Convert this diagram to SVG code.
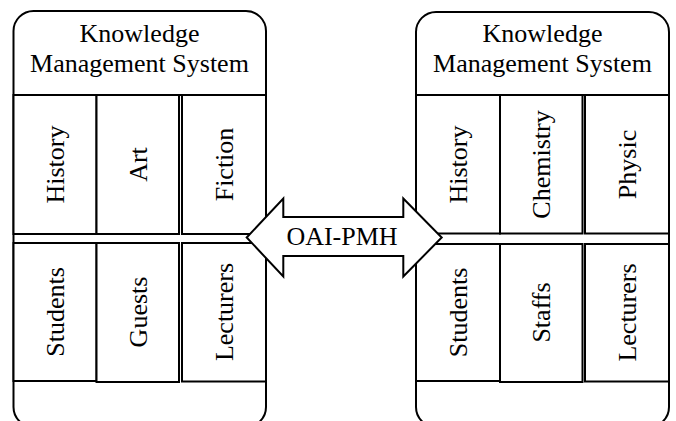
<svg xmlns="http://www.w3.org/2000/svg" width="676" height="421" viewBox="0 0 676 421">
<style>
.box{fill:#fff;stroke:#000;stroke-width:2}
.cell{fill:#fff;stroke:#000;stroke-width:2}
text{font-family:'Liberation Serif',serif;font-size:26px;fill:#000;text-anchor:middle}
</style>
<rect width="676" height="421" fill="#fff"/>
<g id="kms-left">
<rect class="box" x="13.5" y="11" width="252.5" height="416" rx="20" ry="20"/>
<line x1="13.5" y1="95" x2="266" y2="95" stroke="#000" stroke-width="2"/>
<text x="139.5" y="42">Knowledge</text>
<text x="139.5" y="72">Management System</text>
</g>
<g id="left-history"><rect class="cell" x="13.5" y="95" width="83" height="139"/><text transform="translate(63.5,164.5) rotate(-90)">History</text></g>
<g id="left-art"><rect class="cell" x="96.5" y="95" width="82.5" height="139"/><text transform="translate(146.5,164.5) rotate(-90)">Art</text></g>
<g id="left-fiction"><rect class="cell" x="182" y="95" width="84" height="139"/><text transform="translate(232.5,164.5) rotate(-90)">Fiction</text></g>
<g id="left-students"><rect class="cell" x="13.5" y="243" width="83" height="138"/><text transform="translate(63.5,312) rotate(-90)">Students</text></g>
<g id="left-guests"><rect class="cell" x="96.5" y="243" width="82.5" height="139"/><text transform="translate(146.5,312) rotate(-90)">Guests</text></g>
<g id="left-lecturers"><rect class="cell" x="182" y="243" width="84" height="138.5"/><text transform="translate(232.5,312) rotate(-90)">Lecturers</text></g>

<g id="kms-right">
<rect class="box" x="416" y="12" width="253" height="415" rx="20" ry="20"/>
<line x1="416" y1="95" x2="669" y2="95" stroke="#000" stroke-width="2"/>
<text x="542.5" y="42">Knowledge</text>
<text x="542.5" y="72">Management System</text>
</g>
<g id="right-history"><rect class="cell" x="416" y="95" width="84" height="138.5"/><text transform="translate(466.5,164.5) rotate(-90)">History</text></g>
<g id="right-chemistry"><rect class="cell" x="500" y="95" width="82.5" height="138.5"/><text transform="translate(550,164.5) rotate(-90)">Chemistry</text></g>
<g id="right-physic"><rect class="cell" x="585" y="95" width="84" height="138.5"/><text transform="translate(635.5,164.5) rotate(-90)">Physic</text></g>
<g id="right-students"><rect class="cell" x="416" y="244" width="84" height="137"/><text transform="translate(466.5,312.5) rotate(-90)">Students</text></g>
<g id="right-staffs"><rect class="cell" x="500" y="244" width="82.5" height="138"/><text transform="translate(550,312.5) rotate(-90)">Staffs</text></g>
<g id="right-lecturers"><rect class="cell" x="585" y="244" width="84" height="137.5"/><text transform="translate(635.5,312.5) rotate(-90)">Lecturers</text></g>

<g id="connectors">
<polygon points="246.7,237.5 283.3,198.5 283.3,217 403.3,217 403.3,198.5 441.7,237.5 403.3,276.5 403.3,256 283.3,256 283.3,276.5" fill="#fff" stroke="#000" stroke-width="2" stroke-linejoin="miter"/>
<text x="342" y="245">OAI-PMH</text>
</g>
</svg>
